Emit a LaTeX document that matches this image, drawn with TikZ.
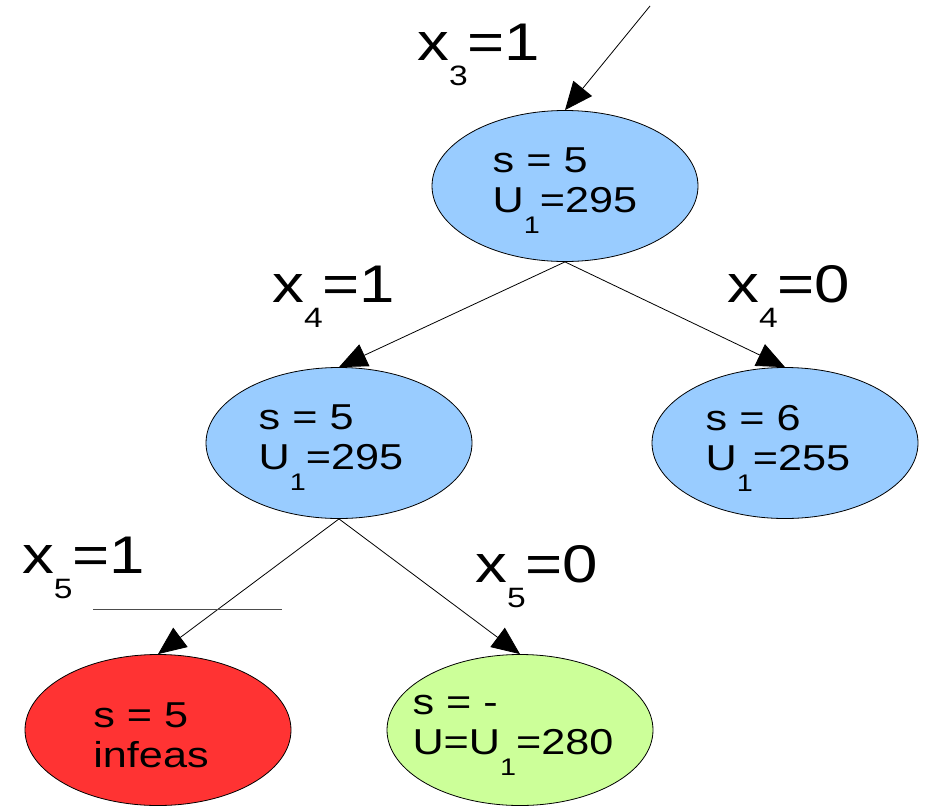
\documentclass[tikz,border=0pt]{standalone}
\usepackage{fontspec}
\setmainfont{Liberation Sans}[FakeStretch=1.2]
\usetikzlibrary{shapes.geometric,arrows.meta}
\definecolor{blueC}{HTML}{99CCFF}
\definecolor{redC}{HTML}{FF3333}
\definecolor{greenC}{HTML}{CCFF99}
\newcommand{\lsub}[1]{\raisebox{-21pt}{\fontsize{24}{24}\selectfont #1}}
\newcommand{\bigsub}[1]{\raisebox{-25pt}{\fontsize{28}{28}\selectfont #1}}
\begin{document}
\begin{tikzpicture}[x=1pt,y=-1pt,
  st/.style={ellipse,draw=black,line width=0.8pt,minimum width=266pt,minimum height=151pt,inner sep=0pt},
  txt/.style={inner sep=0pt,align=left,font=\fontsize{36}{40}\selectfont},
  lbl/.style={anchor=base west,inner sep=0pt,font=\fontsize{53}{53}\selectfont},
  arr/.style={draw=black,line width=0.8pt,-{Triangle[length=28pt,width=24pt]}}]
\useasboundingbox (0,0) rectangle (926,806);
\node[st,fill=blueC] (n1) at (565,186) {};
\node[st,fill=blueC] (n2) at (339,443) {};
\node[st,fill=blueC] (n3) at (785,443) {};
\node[st,fill=redC] (n4) at (158,730) {};
\node[st,fill=greenC] (n5) at (520,730) {};
\node[txt] (t1) at (565,191) {s = 5\\U\lsub{1}=295};
\node[txt] (t2) at (331,448) {s = 5\\U\lsub{1}=295};
\node[txt] (t3) at (778,448) {s = 6\\U\lsub{1}=255};
\node[txt] (t4) at (151,735) {s = 5\\infeas};
\node[txt] (t5) at (513,735) {s = -\\U=U\lsub{1}=280};
\coordinate (in) at (650,6);
\draw[arr] (in) -- (n1.north);
\draw[arr] (n1.south) -- (n2.north);
\draw[arr] (n1.south) -- (n3.north);
\draw[arr] (n2.south) -- (n4.north);
\draw[arr] (n2.south) -- (n5.north);
\coordinate (c1) at (93,609);
\coordinate (c2) at (282,609);
\draw[line width=0.8pt,black!70] (c1) -- (c2);
\node[lbl] (l1) at (417,60) {x\bigsub{3}=1};
\node[lbl] (l2) at (272,302) {x\bigsub{4}=1};
\node[lbl] (l3) at (727,302) {x\bigsub{4}=0};
\node[lbl] (l4) at (22,573) {x\bigsub{5}=1};
\node[lbl] (l5) at (475,582) {x\bigsub{5}=0};
\end{tikzpicture}
\end{document}
